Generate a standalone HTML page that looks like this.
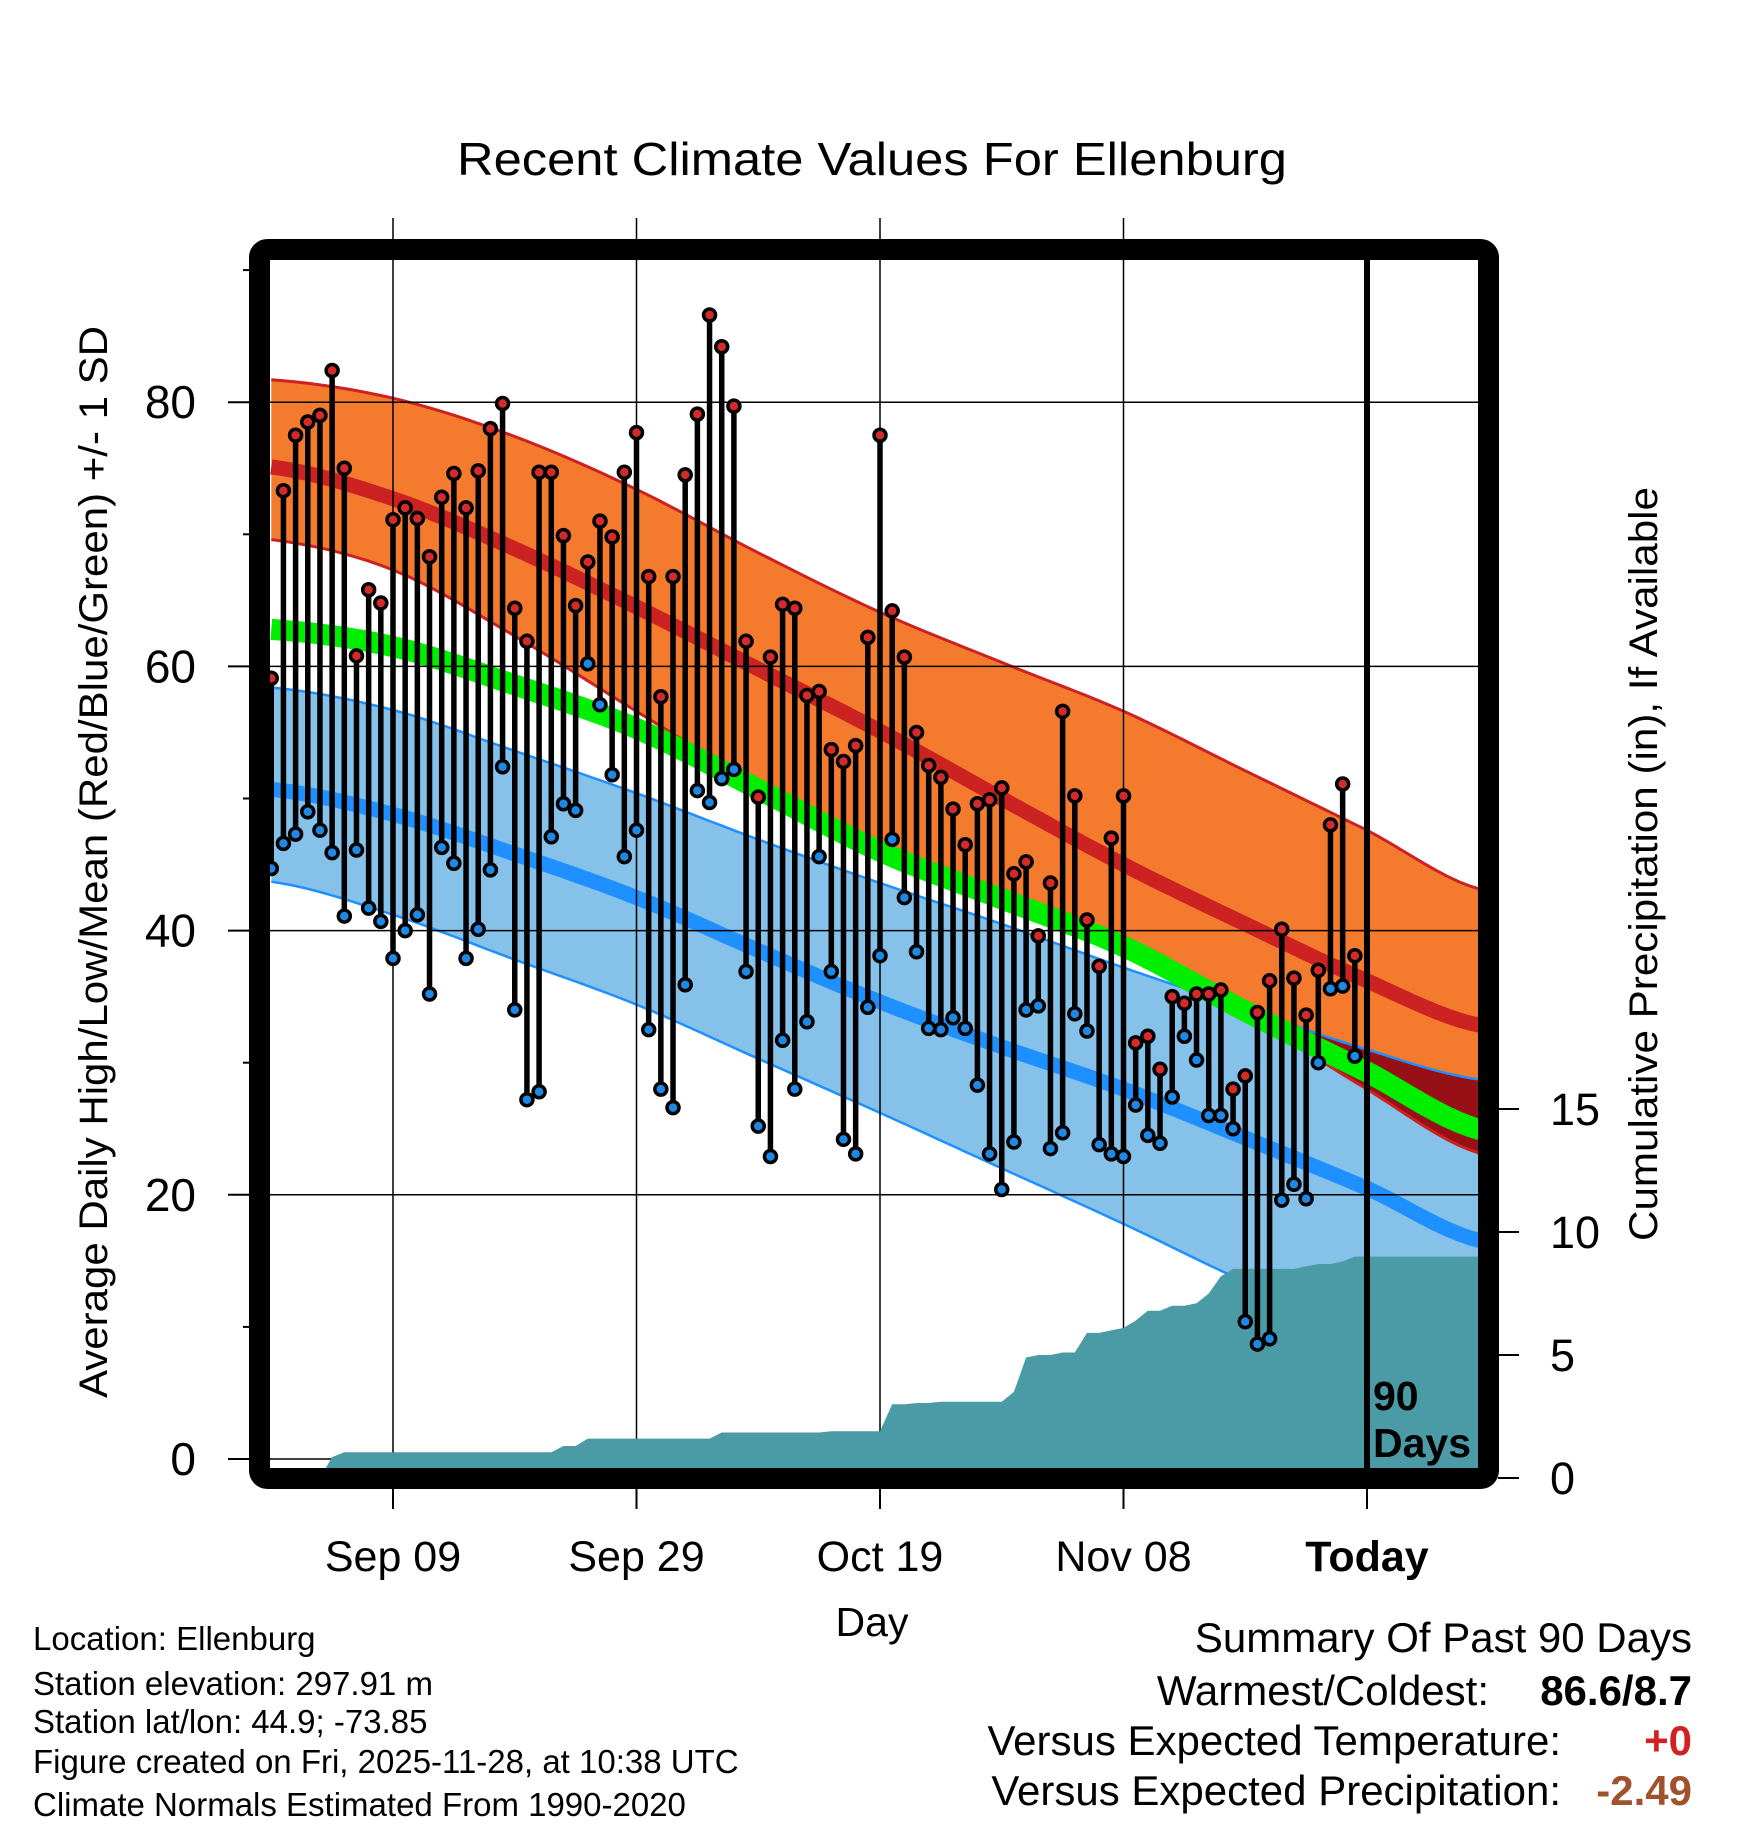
<!DOCTYPE html>
<html><head><meta charset="utf-8"><title>Recent Climate Values For Ellenburg</title>
<style>html,body{margin:0;padding:0;background:#fff}svg{display:block}text{font-family:"Liberation Sans",Arial,sans-serif}</style>
</head><body>
<svg id="chart" xmlns="http://www.w3.org/2000/svg" width="1748" height="1828" viewBox="0 0 1748 1828">
<defs><clipPath id="plotclip"><rect x="270" y="260" width="1208" height="1208"/></clipPath></defs>
<text x="872" y="175" font-size="46" text-anchor="middle" textLength="830" lengthAdjust="spacingAndGlyphs">Recent Climate Values For Ellenburg</text>
<g id="bands" clip-path="url(#plotclip)"></g>
<g id="grid"></g>
<g id="precip" clip-path="url(#plotclip)"></g>
<g id="points" clip-path="url(#plotclip)"></g>
<line x1="1367" y1="260" x2="1367" y2="1468" stroke="#000" stroke-width="6"/>
<text font-size="41" font-weight="bold" x="1373" y="1410">90</text>
<text font-size="41" font-weight="bold" x="1373" y="1457">Days</text>
<rect x="259.5" y="249.5" width="1229" height="1229" rx="8" fill="none" stroke="#000" stroke-width="21"/>
<g id="axes"></g>
<text transform="translate(107,862) rotate(-90)" font-size="40" text-anchor="middle" textLength="1072" lengthAdjust="spacingAndGlyphs">Average Daily High/Low/Mean (Red/Blue/Green) +/- 1 SD</text>
<text transform="translate(1657,864) rotate(-90)" font-size="40" text-anchor="middle" textLength="754" lengthAdjust="spacingAndGlyphs">Cumulative Precipitation (in), If Available</text>
<text x="872" y="1636" font-size="41" text-anchor="middle">Day</text>
<g font-size="33">
<text x="33" y="1650">Location: Ellenburg</text>
<text x="33" y="1695">Station elevation: 297.91 m</text>
<text x="33" y="1733">Station lat/lon: 44.9; -73.85</text>
<text x="33" y="1773">Figure created on Fri, 2025-11-28, at 10:38 UTC</text>
<text x="33" y="1816">Climate Normals Estimated From 1990-2020</text>
</g>
<g font-size="42">
<text x="1692" y="1652" text-anchor="end">Summary Of Past 90 Days</text>
<text x="1489" y="1705" text-anchor="end">Warmest/Coldest:</text>
<text x="1692" y="1705" text-anchor="end" font-weight="bold">86.6/8.7</text>
<text x="1561" y="1755" text-anchor="end">Versus Expected Temperature:</text>
<text x="1692" y="1755" text-anchor="end" font-weight="bold" fill="#d42020">+0</text>
<text x="1561" y="1805" text-anchor="end">Versus Expected Precipitation:</text>
<text x="1692" y="1805" text-anchor="end" font-weight="bold" fill="#a0522d">-2.49</text>
</g>
</svg>
<script>
const highs=[59.1,73.3,77.5,78.5,79,82.4,75,60.8,65.8,64.8,71.1,72,71.2,68.3,72.8,74.6,72,74.8,78,79.9,64.4,61.9,74.7,74.7,69.9,64.6,67.9,71,69.8,74.7,77.7,66.8,57.7,66.8,74.5,79.1,86.6,84.2,79.7,61.9,50.1,60.7,64.7,64.4,57.8,58.1,53.7,52.8,54,62.2,77.5,64.2,60.7,55,52.5,51.6,49.2,46.5,49.6,49.9,50.8,44.3,45.2,39.6,43.6,56.6,50.2,40.8,37.3,47,50.2,31.5,32,29.5,35,34.5,35.2,35.2,35.5,28,29,33.8,36.2,40.1,36.4,33.6,37,48,51.1,38.1];
const lows=[44.7,46.6,47.3,49,47.6,45.9,41.1,46.1,41.7,40.7,37.9,40,41.2,35.2,46.3,45.1,37.9,40.1,44.6,52.4,34,27.2,27.8,47.1,49.6,49.1,60.2,57.1,51.8,45.6,47.6,32.5,28,26.6,35.9,50.6,49.7,51.5,52.2,36.9,25.2,22.9,31.7,28,33.1,45.6,36.9,24.2,23.1,34.2,38.1,46.9,42.5,38.4,32.6,32.5,33.4,32.6,28.3,23.1,20.4,24,34,34.3,23.5,24.7,33.7,32.4,23.8,23.1,22.9,26.8,24.5,23.9,27.4,32,30.2,26,26,25,10.4,8.7,9.1,19.6,20.8,19.7,30,35.6,35.8,30.5];
const precip=[0,0,0,0,0,0.85,1.05,1.05,1.05,1.05,1.05,1.05,1.05,1.05,1.05,1.05,1.05,1.05,1.05,1.05,1.05,1.05,1.05,1.05,1.3,1.3,1.6,1.6,1.6,1.6,1.6,1.6,1.6,1.6,1.6,1.6,1.6,1.85,1.85,1.85,1.85,1.85,1.85,1.85,1.85,1.85,1.9,1.9,1.9,1.9,1.9,3.0,3.0,3.05,3.05,3.1,3.1,3.1,3.1,3.1,3.1,3.5,4.9,5.0,5.0,5.1,5.1,5.9,5.9,6.0,6.1,6.4,6.8,6.8,7.0,7.0,7.1,7.5,8.2,8.5,8.5,8.5,8.5,8.5,8.5,8.6,8.7,8.7,8.8,9.0,9.0];
const normDays=[0,10,20,30,40,50,60,70,80,90,99.4];
const highUpper=[81.7,80.3,77.4,73.4,68.6,64.1,60.3,56.6,52.1,47.6,43.1];
const highMean=[75.1,72.7,68.9,64.5,59.8,55.1,50.0,45.0,40.5,36.2,32.8];
const highLower=[69.6,67.3,62.3,56.6,51.0,46.0,42.0,38.1,33.7,28.0,23.1];
const meanT=[62.8,61.5,58.6,55.3,50.7,46.0,42.4,38.8,33.9,29.3,24.9];
const lowUpper=[58.4,56.7,53.6,50.4,46.9,43.6,40.5,37.2,34.1,31.0,28.7];
const lowMean=[50.7,48.8,45.8,42.5,38.5,34.6,31.2,28.0,24.3,20.5,16.5];
const lowLower=[43.7,41.2,37.8,34.4,30.3,26.2,22.0,17.8,13.4,9.5,7.7];
const dateTicks=[10,30,50,70,90];
const dateLabels=["Sep 09","Sep 29","Oct 19","Nov 08","Today"];
const yTicks=[0,20,40,60,80];
const yMinor=[10,30,50,70,90];
const pTicks=[0,5,10,15];

const NS="http://www.w3.org/2000/svg";
function xs(d){return 393+12.175*(d-10);}
function ys(t){return 1459-13.21*t;}
function yp(p){return 1478-24.6*p;}
function mk(tag,attrs,parent){const e=document.createElementNS(NS,tag);for(const k in attrs)e.setAttribute(k,attrs[k]);parent.appendChild(e);return e;}
function smooth(arr){
  const out=[];const n=normDays.length;
  for(let i=0;i<n-1;i++){
    const p0=arr[Math.max(0,i-1)],p1=arr[i],p2=arr[i+1],p3=arr[Math.min(n-1,i+2)];
    const d1=normDays[i],d2=normDays[i+1];
    for(let s=0;s<10;s++){const t=s/10;
      const v=0.5*((2*p1)+(-p0+p2)*t+(2*p0-5*p1+4*p2-p3)*t*t+(-p0+3*p1-3*p2+p3)*t*t*t);
      out.push([d1+(d2-d1)*t,v]);}
  }
  out.push([normDays[n-1],arr[n-1]]);
  return out;
}
function line(arr){return smooth(arr).map(p=>xs(p[0]).toFixed(1)+','+ys(p[1]).toFixed(1));}
function band(up,lo){return line(up).concat(line(lo).reverse()).join(' ');}
const bands=document.getElementById('bands');
let e;
e=mk('polygon',{points:band(lowUpper,lowLower),fill:'#85c1e9'},bands);


e=mk('polygon',{points:band(highUpper,highLower),fill:'#f47a2e'},bands);


const ovTop=lowUpper.map(v=>v);
const ovBot=lowUpper.map((v,i)=>Math.min(v,highLower[i]));
e=mk('polygon',{points:band(ovTop,ovBot),fill:'#971015'},bands);


const lineSpecs=[[highUpper,'#cc2222',3,'high-upper-line'],[highLower,'#cc2222',3,'high-lower-line'],[lowUpper,'#1e90ff',2.5,'low-upper-line'],[lowLower,'#1e90ff',2.5,'low-lower-line'],[highMean,'#cc2222',15,'high-mean-line'],[lowMean,'#1e90ff',15,'low-mean-line'],[meanT,'#00ee00',21,'mean-line']];
lineSpecs.forEach(s=>{
  e=mk('polyline',{points:line(s[0]).join(' '),fill:'none',stroke:s[1],'stroke-width':s[2]},bands);
  
  
});
const grid=document.getElementById('grid');
yTicks.forEach(t=>{
  e=mk('line',{x1:270,x2:1478,y1:ys(t),y2:ys(t),stroke:'#000','stroke-width':1.5},grid);
  
  
});
dateTicks.slice(0,4).forEach(d=>{
  e=mk('line',{x1:xs(d),x2:xs(d),y1:218,y2:1468,stroke:'#000','stroke-width':1.5},grid);
  
  
});
const pg=document.getElementById('precip');
let pts=[xs(0)+','+yp(0)];
precip.forEach((p,i)=>{pts.push(xs(i).toFixed(1)+','+yp(p).toFixed(1));});
pts.push(xs(100)+','+yp(precip[precip.length-1]).toFixed(1));
pts.push(xs(100)+','+yp(0));
e=mk('polygon',{points:pts.join(' '),fill:'#4a9ba5'},pg);


const pgp=document.getElementById('points');
highs.forEach((h,i)=>{
  const x=xs(i);
  e=mk('line',{x1:x,x2:x,y1:ys(h),y2:ys(lows[i]),stroke:'#000','stroke-width':5.5},pgp);
  
  
});
highs.forEach((h,i)=>{
  const x=xs(i);
  e=mk('circle',{cx:x,cy:ys(h),r:6,fill:'#d42a2a',stroke:'#000','stroke-width':3.5},pgp);
  
  
  e=mk('circle',{cx:x,cy:ys(lows[i]),r:6,fill:'#1e88e5',stroke:'#000','stroke-width':3.5},pgp);
  
  
});
const ax=document.getElementById('axes');
yTicks.forEach(t=>{
  e=mk('line',{x1:228,x2:250,y1:ys(t),y2:ys(t),stroke:'#000','stroke-width':2},ax);
  
  
  e=mk('text',{x:196,y:ys(t)+16,'font-size':46,'text-anchor':'end'},ax);
  e.textContent=String(t);
  
  
});
yMinor.forEach(t=>{
  e=mk('line',{x1:243,x2:250,y1:ys(t),y2:ys(t),stroke:'#000','stroke-width':2},ax);
  
  
});
pTicks.forEach(p=>{
  e=mk('line',{x1:1498,x2:1519,y1:yp(p),y2:yp(p),stroke:'#000','stroke-width':2},ax);
  
  
  e=mk('text',{x:1550,y:yp(p)+16,'font-size':45},ax);
  e.textContent=String(p);
  
  
});
dateTicks.forEach((d,i)=>{
  e=mk('line',{x1:xs(d),x2:xs(d),y1:1488,y2:1509,stroke:'#000','stroke-width':2},ax);
  
  
  e=mk('text',{x:xs(d),y:1571,'font-size':43,'text-anchor':'middle','font-weight':i===4?'bold':'normal'},ax);
  e.textContent=dateLabels[i];
  
  
});
</script>
</body></html>
